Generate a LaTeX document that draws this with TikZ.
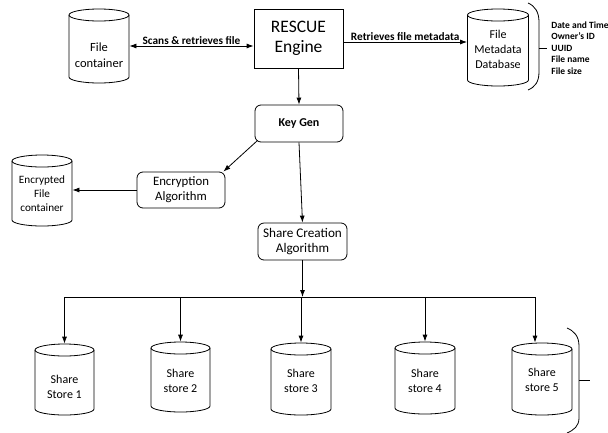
\documentclass[tikz,border=0pt]{standalone}
\usepackage{fontspec}
\setmainfont{Carlito}
\usetikzlibrary{arrows.meta}
\newcommand\dbcyl[5]{% name, cx, top, bottom, rx
  \node[inner sep=0, minimum width={2*#5}, minimum height={#4-#3}, draw=none] (#1) at (#2,{(#3+#4)/2}) {};
  \draw (#2,#3+6) ellipse ({#5} and 6);
  \draw (#2-#5,#3+6) -- (#2-#5,#4-6) arc[start angle=180,end angle=0,x radius=#5,y radius=6] -- (#2+#5,#3+6);
}
\begin{document}
\begin{tikzpicture}[x=1pt,y=-1pt, line width=0.8pt,
  box/.style={draw, align=center, inner sep=0, minimum width=89pt, minimum height=37pt},
  rbox/.style={box, rounded corners=6pt},
  cyltext/.style={align=center, inner sep=0, font=\fontsize{12}{15}\selectfont},
  arr/.style={-{Latex[length=7pt,width=5pt]}},
  lbl/.style={font=\bfseries\fontsize{11.3}{12}\selectfont, inner sep=1.5pt}]
\useasboundingbox (0,0) rectangle (608,432);

% main boxes
\node[box, minimum width=89pt, minimum height=59pt, font=\fontsize{17.5}{20}\selectfont] (rescue) at (298.5,38.5) {RESCUE\\Engine};
\node[rbox, minimum width=88pt, minimum height=37pt, font=\bfseries\fontsize{12}{14}\selectfont] (keygen) at (299,123.5) {Key Gen};
\node[rbox, minimum width=88pt, minimum height=36pt, font=\fontsize{12.8}{15}\selectfont] (enc) at (181,190) {Encryption\\Algorithm};
\node[rbox, minimum width=89pt, minimum height=37pt, font=\fontsize{13.2}{15}\selectfont] (share) at (302.5,241.5) {Share Creation\\Algorithm};

% cylinders
\dbcyl{filec}{99}{9}{83}{30}
\node[cyltext, font=\fontsize{12.5}{16}\selectfont] (filec-t) at (99,55) {File\\container};
\dbcyl{meta}{498}{9}{86}{30.5}
\node[cyltext, font=\fontsize{12}{15}\selectfont] (meta-t) at (498,49) {File\\Metadata\\Database};
\dbcyl{encf}{42}{155}{226}{30}
\node[cyltext, font=\fontsize{11.2}{14}\selectfont] (encf-t) at (42,193.5) {Encrypted\\File\\container};

\dbcyl{s1}{64.5}{344}{415}{29.5}
\node[cyltext] (s1-t) at (64.5,387) {Share\\Store 1};
\dbcyl{s2}{180.5}{342}{412}{29.5}
\node[cyltext] (s2-t) at (180.5,380.5) {Share\\store 2};
\dbcyl{s3}{301}{343}{415}{30}
\node[cyltext] (s3-t) at (301,381) {Share\\store 3};
\dbcyl{s4}{425}{342}{414}{30}
\node[cyltext] (s4-t) at (425,381) {Share\\store 4};
\dbcyl{s5}{542}{343}{415}{30}
\node[cyltext] (s5-t) at (542,380) {Share\\store 5};

% connectors
\draw[{Latex[length=7pt,width=5pt]}-{Latex[length=7pt,width=5pt]}] (filec.east) -- (filec.east -| rescue.west)
  node[lbl, midway, above] (lab1) {Scans \& retrieves file};
\draw[arr] ([yshift=-3.5pt]rescue.east) -- ([yshift=-3.5pt]rescue.east -| meta.west)
  node[lbl, midway, above] (lab2) {Retrieves file metadata};
\draw[arr] (rescue.south) -- (keygen.north);
\draw[arr] ([xshift=3pt,yshift=2pt]keygen.south west) -- ([xshift=-2pt]enc.north east);
\draw[arr] (keygen.south) -- (share.north);
\draw[arr] (enc.west) -- (enc.west -| encf.east);

\coordinate (bus) at (302.5,297);
\coordinate (b5) at (535,297);
\draw[arr] (share.south) -- (bus);
\draw (s1.north |- bus) -- (b5);
\foreach \s in {s1,s2,s3,s4} \draw[arr] (\s.north |- bus) -- (\s.north);
\draw[arr] (b5) -- (b5 |- s5.north);

% brackets
\draw (528,3) .. controls (535,6) and (539,12) .. (539,22) -- (539,72) .. controls (539,82) and (535,87) .. (528,90);
\draw (539,48) -- (547,48);
\node[anchor=west, align=left, inner sep=0, font=\bfseries\fontsize{9.5}{11.6}\selectfont] (list) at (551,48) {Date and Time\\Owner’s ID\\UUID\\File name\\File size};
\draw (567,328) .. controls (574,331) and (579,336) .. (579,346) -- (579,418) .. controls (579,426) and (574,430) .. (567,433);
\coordinate (tickend) at (590,380);
\draw (579,380) -- (tickend);
\end{tikzpicture}
\end{document}
